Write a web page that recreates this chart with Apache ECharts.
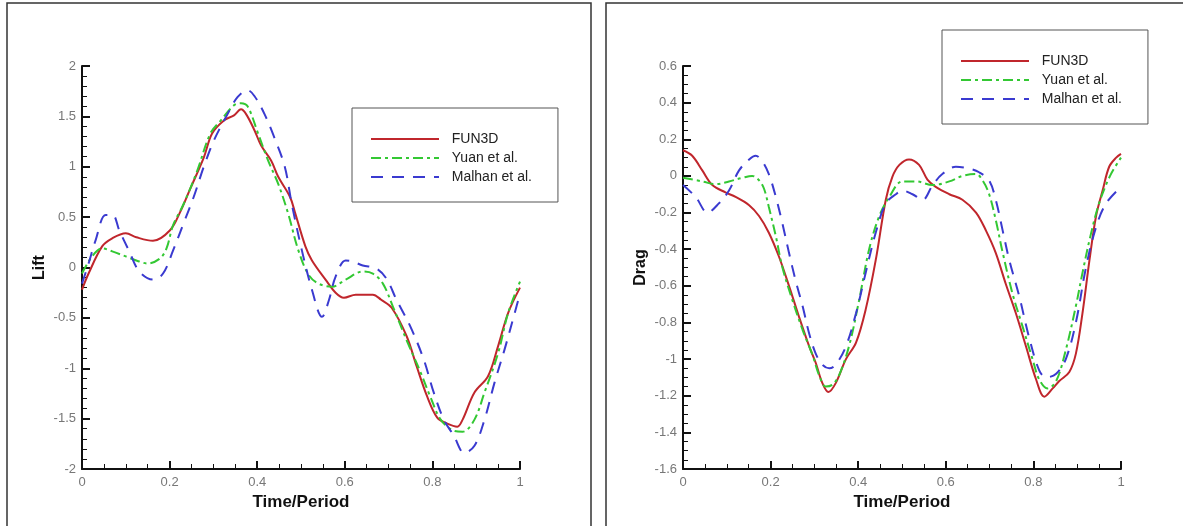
<!DOCTYPE html>
<html>
<head>
<meta charset="utf-8">
<script src="https://cdn.jsdelivr.net/npm/echarts@6/dist/echarts.min.js"></script>
<style>
  html, body { margin: 0; padding: 0; background: #fff; }
  #chart { width: 1183px; height: 526px; }
</style>
</head>
<body>
<div id="chart"></div>
<script>
// Series names
const seriesNames = ['FUN3D', 'Yuan et al.', 'Malhan et al.'];

// Lift over one period
const liftFun3dT = [0, 0.015, 0.046, 0.069, 0.100, 0.124, 0.162, 0.201, 0.224, 0.247, 0.278, 0.297, 0.324, 0.347, 0.363, 0.375, 0.394, 0.409, 0.432, 0.448, 0.475, 0.486, 0.510, 0.525, 0.556, 0.579, 0.598, 0.625, 0.664, 0.683, 0.707, 0.741, 0.764, 0.788, 0.811, 0.834, 0.857, 0.869, 0.896, 0.927, 0.950, 0.973, 1.0];
const liftFun3d  = [-0.22, -0.06, 0.21, 0.29, 0.34, 0.30, 0.265, 0.37, 0.55, 0.78, 1.09, 1.33, 1.46, 1.51, 1.57, 1.52, 1.36, 1.21, 1.06, 0.90, 0.70, 0.55, 0.21, 0.07, -0.12, -0.25, -0.30, -0.27, -0.27, -0.32, -0.40, -0.68, -0.98, -1.28, -1.49, -1.55, -1.58, -1.51, -1.24, -1.08, -0.78, -0.45, -0.20];

const liftYuanT = [0, 0.023, 0.046, 0.069, 0.100, 0.124, 0.150, 0.178, 0.193, 0.208, 0.232, 0.263, 0.293, 0.317, 0.347, 0.363, 0.378, 0.402, 0.425, 0.448, 0.471, 0.494, 0.517, 0.540, 0.571, 0.602, 0.641, 0.664, 0.687, 0.710, 0.741, 0.772, 0.795, 0.819, 0.849, 0.869, 0.896, 0.919, 0.950, 0.973, 1.0];
const liftYuan  = [-0.06, 0.11, 0.19, 0.16, 0.11, 0.07, 0.04, 0.09, 0.19, 0.42, 0.63, 0.96, 1.33, 1.46, 1.61, 1.63, 1.60, 1.33, 1.06, 0.83, 0.53, 0.17, -0.07, -0.16, -0.19, -0.12, -0.04, -0.06, -0.16, -0.39, -0.72, -1.03, -1.28, -1.51, -1.62, -1.63, -1.51, -1.24, -0.85, -0.45, -0.14];

const liftMalhanT = [0, 0.015, 0.031, 0.054, 0.070, 0.085, 0.108, 0.131, 0.162, 0.185, 0.208, 0.232, 0.255, 0.278, 0.301, 0.332, 0.355, 0.378, 0.394, 0.417, 0.440, 0.463, 0.479, 0.502, 0.525, 0.548, 0.564, 0.579, 0.602, 0.618, 0.641, 0.672, 0.695, 0.718, 0.749, 0.780, 0.803, 0.826, 0.849, 0.873, 0.896, 0.919, 0.942, 0.965, 0.988, 1.0];
const liftMalhan  = [-0.16, 0.04, 0.27, 0.52, 0.52, 0.37, 0.16, -0.04, -0.12, -0.06, 0.17, 0.44, 0.70, 1.00, 1.26, 1.52, 1.69, 1.76, 1.70, 1.52, 1.28, 1.00, 0.63, 0.17, -0.22, -0.49, -0.32, -0.09, 0.07, 0.06, 0.02, -0.01, -0.11, -0.32, -0.58, -0.91, -1.24, -1.51, -1.67, -1.84, -1.77, -1.51, -1.14, -0.81, -0.45, -0.26];

// Drag over one period
const dragFun3dT = [0, 0.021, 0.044, 0.067, 0.097, 0.120, 0.151, 0.174, 0.196, 0.219, 0.242, 0.265, 0.288, 0.303, 0.318, 0.332, 0.349, 0.372, 0.395, 0.417, 0.440, 0.463, 0.478, 0.494, 0.516, 0.539, 0.558, 0.577, 0.608, 0.638, 0.669, 0.692, 0.714, 0.737, 0.760, 0.783, 0.806, 0.825, 0.844, 0.859, 0.882, 0.897, 0.912, 0.928, 0.943, 0.958, 0.973, 0.989, 1.0];
const dragFun3d  = [0.14, 0.11, 0.03, -0.05, -0.09, -0.115, -0.16, -0.22, -0.31, -0.44, -0.60, -0.77, -0.93, -1.02, -1.13, -1.18, -1.13, -1.00, -0.91, -0.73, -0.46, -0.13, -0.005, 0.06, 0.09, 0.06, -0.02, -0.06, -0.10, -0.13, -0.20, -0.30, -0.42, -0.59, -0.75, -0.93, -1.11, -1.205, -1.16, -1.12, -1.07, -0.97, -0.75, -0.46, -0.22, -0.08, 0.05, 0.10, 0.12];

const dragYuanT = [0, 0.044, 0.075, 0.105, 0.136, 0.158, 0.174, 0.185, 0.196, 0.212, 0.227, 0.250, 0.273, 0.296, 0.311, 0.326, 0.341, 0.356, 0.379, 0.402, 0.425, 0.448, 0.471, 0.501, 0.532, 0.570, 0.608, 0.638, 0.669, 0.684, 0.699, 0.714, 0.730, 0.752, 0.775, 0.798, 0.813, 0.832, 0.852, 0.874, 0.897, 0.912, 0.930, 0.950, 0.975, 1.0];
const dragYuan  = [-0.01, -0.03, -0.045, -0.03, -0.01, 0.0, -0.025, -0.07, -0.17, -0.33, -0.50, -0.68, -0.84, -0.98, -1.09, -1.15, -1.14, -1.09, -0.93, -0.68, -0.40, -0.22, -0.115, -0.03, -0.03, -0.05, -0.03, 0.0, 0.01, -0.025, -0.10, -0.24, -0.42, -0.64, -0.82, -1.00, -1.11, -1.16, -1.12, -0.95, -0.71, -0.53, -0.33, -0.15, 0.0, 0.10];

const dragMalhanT = [0, 0.029, 0.056, 0.082, 0.105, 0.128, 0.151, 0.166, 0.181, 0.196, 0.212, 0.227, 0.242, 0.257, 0.273, 0.288, 0.303, 0.318, 0.334, 0.349, 0.372, 0.395, 0.417, 0.440, 0.463, 0.486, 0.501, 0.524, 0.547, 0.570, 0.592, 0.623, 0.653, 0.676, 0.699, 0.714, 0.730, 0.745, 0.768, 0.790, 0.813, 0.829, 0.852, 0.874, 0.897, 0.920, 0.943, 0.966, 1.0];
const dragMalhan  = [-0.05, -0.115, -0.20, -0.15, -0.08, 0.03, 0.09, 0.11, 0.08, 0.01, -0.115, -0.26, -0.42, -0.57, -0.71, -0.86, -0.97, -1.03, -1.05, -1.03, -0.93, -0.75, -0.53, -0.31, -0.15, -0.10, -0.08, -0.10, -0.13, -0.05, 0.01, 0.05, 0.04, 0.02, -0.025, -0.13, -0.30, -0.46, -0.66, -0.88, -1.06, -1.10, -1.08, -1.00, -0.80, -0.50, -0.28, -0.15, -0.06];

// Axis tick settings
const xTicks = { min: 0, max: 1, interval: 0.2, minorSplit: 4 };
const liftTicks = { min: -2, max: 2, interval: 0.5, minorSplit: 5 };
const dragTicks = { min: -1.6, max: 0.6, interval: 0.2, minorSplit: 4 };

const pairs = (t, v) => t.map((x, i) => [x, v[i]]);

const FONT = '"Liberation Sans", Arial, Helvetica, sans-serif';
const COLORS = ['#c0262c', '#33c833', '#3a3ad0'];
const LINE_TYPES = ['solid', [10, 4, 3, 4], [12, 9]];

function xAxisFor(grid) {
  return {
    type: 'value', gridIndex: grid, min: xTicks.min, max: xTicks.max, interval: xTicks.interval,
    name: 'Time/Period', nameLocation: 'middle', nameGap: 24,
    nameTextStyle: { fontFamily: FONT, fontWeight: 'bold', fontSize: 17, color: '#111' },
    axisLine: { onZero: false, lineStyle: { color: '#111', width: 2 } },
    axisTick: { inside: true, length: 8, lineStyle: { color: '#111', width: 2 } },
    minorTick: { show: true, splitNumber: xTicks.minorSplit, length: 5, lineStyle: { color: '#111', width: 1 } },
    axisLabel: { fontFamily: FONT, fontSize: 13, color: '#777', margin: 7 },
    splitLine: { show: false }
  };
}
function yAxisFor(grid, name, t) {
  return {
    type: 'value', gridIndex: grid, min: t.min, max: t.max, interval: t.interval,
    name: name, nameLocation: 'middle', nameGap: 34,
    nameTextStyle: { fontFamily: FONT, fontWeight: 'bold', fontSize: 16, color: '#111' },
    axisLine: { onZero: false, lineStyle: { color: '#111', width: 2 } },
    axisTick: { inside: true, length: 8, lineStyle: { color: '#111', width: 2 } },
    minorTick: { show: true, splitNumber: t.minorSplit, length: 5, lineStyle: { color: '#111', width: 1 } },
    axisLabel: { fontFamily: FONT, fontSize: 13, color: '#777', margin: 6 },
    splitLine: { show: false }
  };
}
function lineSeries(idx, grid, data) {
  return {
    name: seriesNames[idx], type: 'line', xAxisIndex: grid, yAxisIndex: grid,
    data: data, showSymbol: false, symbol: 'none', smooth: 0.35, animation: false,
    lineStyle: { color: COLORS[idx], width: 2, type: LINE_TYPES[idx] },
    itemStyle: { color: COLORS[idx] }
  };
}
function legendAt(grid, left, top) {
  return {
    show: true, orient: 'vertical', left: left, top: top,
    data: seriesNames.map(n => ({ name: n })),
    itemWidth: 68, itemHeight: 14, itemGap: 5,
    padding: [24, 26, 18, 18],
    borderColor: '#555', borderWidth: 1, backgroundColor: '#fff',
    // keep the line sample, hide the marker drawn on it
    itemStyle: { color: 'rgba(0,0,0,0)', borderColor: 'rgba(0,0,0,0)', borderWidth: 0 },
    formatter: n => '  ' + n,
    textStyle: { fontFamily: FONT, fontSize: 14, color: '#222' },
    selectedMode: false
  };
}

const chart = echarts.init(document.getElementById('chart'), null, { renderer: 'canvas' });
chart.setOption({
  animation: false,
  backgroundColor: '#fff',
  graphic: [
    { type: 'rect', silent: true, z: -10, shape: { x: 7, y: 3, width: 584, height: 540 },
      style: { fill: 'none', stroke: '#333', lineWidth: 1.5 } },
    { type: 'rect', silent: true, z: -10, shape: { x: 606, y: 3, width: 590, height: 540 },
      style: { fill: 'none', stroke: '#333', lineWidth: 1.5 } }
  ],
  grid: [
    { left: 82, top: 66, width: 438, height: 403 },
    { left: 683, top: 66, width: 438, height: 403 }
  ],
  xAxis: [xAxisFor(0), xAxisFor(1)],
  yAxis: [yAxisFor(0, 'Lift', liftTicks), yAxisFor(1, 'Drag', dragTicks)],
  legend: [legendAt(0, 352, 108), legendAt(1, 942, 30)],
  series: [
    lineSeries(0, 0, pairs(liftFun3dT, liftFun3d)),
    lineSeries(1, 0, pairs(liftYuanT, liftYuan)),
    lineSeries(2, 0, pairs(liftMalhanT, liftMalhan)),
    lineSeries(0, 1, pairs(dragFun3dT, dragFun3d)),
    lineSeries(1, 1, pairs(dragYuanT, dragYuan)),
    lineSeries(2, 1, pairs(dragMalhanT, dragMalhan))
  ]
});
</script>
</body>
</html>
